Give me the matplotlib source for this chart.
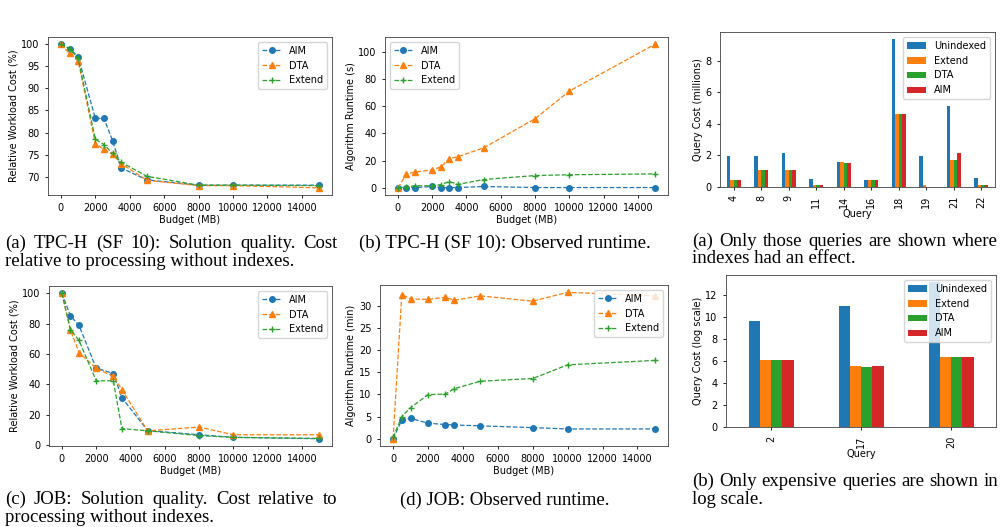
import numpy as np
import matplotlib.pyplot as plt

plt.rcParams['font.size'] = 7
plt.rcParams['axes.linewidth'] = 0.6
plt.rcParams['axes.edgecolor'] = '0.25'
plt.rcParams['xtick.major.width'] = 0.6
plt.rcParams['ytick.major.width'] = 0.6
plt.rcParams['xtick.major.size'] = 2.5
plt.rcParams['ytick.major.size'] = 2.5
plt.rcParams['legend.fontsize'] = 7

# TPC-H (SF 10) quality / runtime
tpch_budget = [0, 500, 1000, 2000, 2500, 3000, 3500, 5000, 8000, 10000, 15000]
tpch_cost_aim = [100, 99.0, 97.2, 83.2, 83.2, 78.2, 72.0, 69.3, 68.1, 68.1, 68.1]
tpch_cost_dta = [100, 97.9, 96.3, 77.5, 76.2, 75.1, 73.0, 69.2, 68.0, 68.0, 67.5]
tpch_cost_extend = [100, 99.0, 96.8, 78.5, 77.3, 75.3, 73.3, 70.1, 68.1, 68.1, 68.0]

tpch_rt_aim = [0, 0.2, 0.1, 1.0, 0.1, 0.1, 0.2, 1.0, 0.2, 0.2, 0.2]
tpch_rt_dta = [0, 10.0, 11.6, 13.1, 15.3, 21.5, 22.8, 29.3, 50.7, 71.0, 105.4]
tpch_rt_extend = [0, 0.8, 1.5, 1.5, 2.3, 4.6, 2.5, 6.1, 9.0, 9.6, 10.2]

# JOB quality / runtime
job_budget = [0, 500, 1000, 2000, 3000, 3500, 5000, 8000, 10000, 15000]
job_cost_aim = [100, 85.2, 78.8, 50.7, 47.1, 31.1, 9.5, 6.7, 5.0, 4.1]
job_cost_dta = [100, 75.7, 60.9, 50.6, 45.2, 36.4, 9.3, 11.8, 6.7, 6.7]
job_cost_extend = [100, 76.1, 68.9, 42.3, 42.3, 10.8, 9.3, 6.2, 5.0, 4.3]

job_rt_aim = [0, 4.2, 4.6, 3.5, 3.2, 3.1, 2.9, 2.5, 2.2, 2.2]
job_rt_dta = [0, 32.6, 31.6, 31.5, 32.0, 31.3, 32.3, 31.1, 33.1, 32.3]
job_rt_extend = [0.3, 5.0, 7.0, 9.95, 10.1, 11.3, 13.0, 13.6, 16.7, 17.7]

# per query costs
tpch_queries = ['4', '8', '9', '11', '14', '16', '18', '19', '21', '22']
tpch_unindexed = [1.95, 1.95, 2.15, 0.5, 1.58, 0.45, 9.35, 1.95, 5.15, 0.55]
tpch_extend = [0.43, 1.1, 1.08, 0.1, 1.58, 0.45, 4.6, 0.12, 1.72, 0.15]
tpch_dta = [0.43, 1.08, 1.05, 0.1, 1.52, 0.45, 4.6, 0.03, 1.72, 0.13]
tpch_aim = [0.43, 1.1, 1.08, 0.1, 1.5, 0.45, 4.6, 0.03, 2.15, 0.12]

job_queries = ['2', '17', '20']
job_unindexed = [9.65, 11.0, 13.2]
job_extend = [6.15, 5.6, 6.4]
job_dta = [6.15, 5.5, 6.4]
job_aim = [6.15, 5.58, 6.4]

W, H = 1005, 527
fig = plt.figure(figsize=(W / 100, H / 100), dpi=100)


def px_axes(l, t, r, b):
    return fig.add_axes([l / W, 1 - b / H, (r - l) / W, (b - t) / H])


def line_panel(ax, x, aim, dta, ext, ylabel, loc):
    kw = dict(linestyle='--', linewidth=0.9, markersize=4)
    ax.plot(x, aim, marker='o', color='tab:blue', label='AIM', **kw)
    ax.plot(x, dta, marker='^', color='tab:orange', label='DTA', **kw)
    ax.plot(x, ext, marker='+', color='tab:green', label='Extend', **kw)
    ax.set_xticks(range(0, 15000, 2000))
    ax.set_xlabel('Budget (MB)', labelpad=1)
    ax.set_ylabel(ylabel, labelpad=2)
    ax.legend(loc=loc)


def bar_panel(ax, labels, series, ylabel):
    # same layout as pandas DataFrame.plot.bar
    names = ['Unindexed', 'Extend', 'DTA', 'AIM']
    colors = ['tab:blue', 'tab:orange', 'tab:green', 'tab:red']
    n = len(labels)
    w = 0.5 / len(series)
    pos = np.arange(n)
    for i, (vals, name, c) in enumerate(zip(series, names, colors)):
        ax.bar(pos - 0.25 + (i + 0.5) * w, vals, w, color=c, label=name)
    ax.set_xlim(-0.5, n - 0.5)
    ax.set_xticks(pos)
    ax.set_xticklabels(labels, rotation=90)
    ax.set_xlabel('Query', labelpad=1)
    ax.set_ylabel(ylabel, labelpad=2)
    ax.legend(loc='upper right')


ax1 = px_axes(48, 37, 332, 195)
line_panel(ax1, tpch_budget, tpch_cost_aim, tpch_cost_dta, tpch_cost_extend,
           'Relative Workload Cost (%)', 'upper right')
ax1.set_yticks(range(70, 101, 5))

ax2 = px_axes(385, 37, 668, 195)
line_panel(ax2, tpch_budget, tpch_rt_aim, tpch_rt_dta, tpch_rt_extend,
           'Algorithm Runtime (s)', 'upper left')

ax3 = px_axes(720, 32, 995, 187)
bar_panel(ax3, tpch_queries, [tpch_unindexed, tpch_extend, tpch_dta, tpch_aim],
          'Query Cost (millions)')

ax4 = px_axes(49, 286, 332, 446)
line_panel(ax4, job_budget, job_cost_aim, job_cost_dta, job_cost_extend,
           'Relative Workload Cost (%)', 'upper right')

ax5 = px_axes(380, 285, 668, 446)
line_panel(ax5, job_budget, job_rt_aim, job_rt_dta, job_rt_extend,
           'Algorithm Runtime (min)', 'upper right')

ax6 = px_axes(726, 275, 996, 427)
bar_panel(ax6, job_queries, [job_unindexed, job_extend, job_dta, job_aim],
          'Query Cost (log scale)')

# captions, first lines justified like in the paper
cap_font = dict(family='Liberation Serif', fontsize=13.5, color='black')
renderer = fig.canvas.get_renderer()


def put_line(text, x0, x1, base, mode):
    y = 1 - base / H
    if mode == 'left':
        fig.text(x0 / W, y, text, ha='left', va='baseline', **cap_font)
        return
    if mode == 'center':
        fig.text((x0 + x1) / 2 / W, y, text, ha='center', va='baseline', **cap_font)
        return
    words = text.split()
    items = [fig.text(0, y, wd, ha='left', va='baseline', **cap_font) for wd in words]
    widths = [t.get_window_extent(renderer).width for t in items]
    gap = (x1 - x0 - sum(widths)) / (len(words) - 1)
    x = x0
    for t, wd in zip(items, widths):
        t.set_x(x / W)
        x += wd + gap


put_line('(a) TPC-H (SF 10): Solution quality. Cost', 5, 338, 248, 'justify')
put_line('relative to processing without indexes.', 5, 338, 266, 'left')
put_line('(b) TPC-H (SF 10): Observed runtime.', 350, 660, 248, 'center')
put_line('(a) Only those queries are shown where', 692, 998, 246, 'justify')
put_line('indexes had an effect.', 692, 998, 263, 'left')

put_line('(c) JOB: Solution quality. Cost relative to', 5, 337, 504, 'justify')
put_line('processing without indexes.', 5, 337, 522, 'left')
put_line('(d) JOB: Observed runtime.', 350, 660, 505, 'center')
put_line('(b) Only expensive queries are shown in', 692, 998, 486, 'justify')
put_line('log scale.', 692, 998, 504, 'left')

fig.savefig('out.png', dpi=100)
